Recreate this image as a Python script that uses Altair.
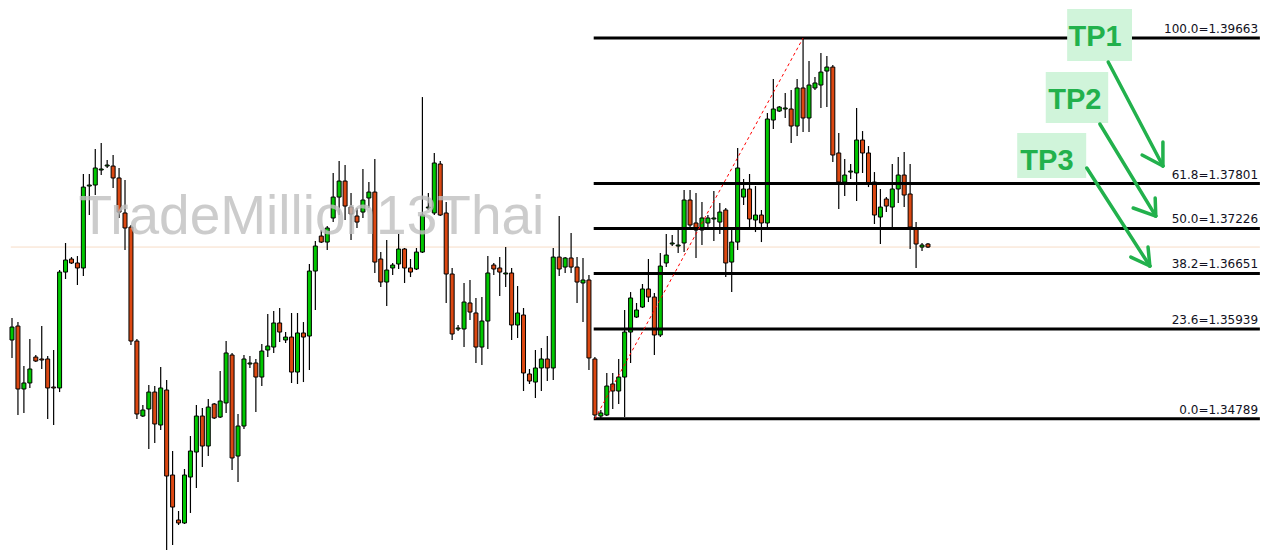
import altair as alt
import pandas as pd

# ---------------- candle data ----------------
opens = [1.35798,1.35977,1.35171,1.35248,1.35580,1.35555,1.35555,1.35196,1.35184,1.36668,
         1.36835,1.36784,1.36720,1.37769,1.37782,1.37974,1.38025,1.38025,1.37872,1.37424,
         1.37244,1.35785,1.34825,1.34915,1.35132,1.34710,1.35158,1.34070,1.33494,1.33456,
         1.34044,1.34364,1.34825,1.34441,1.34979,1.34812,1.34992,1.35606,1.34313,1.34697,
         1.35491,1.35504,1.35324,1.35670,1.35708,1.36016,1.35798,1.35836,1.35388,1.35888,
         1.35849,1.36681,1.37129,1.37052,1.37360,1.37628,1.37833,1.37500,1.37385,1.37436,
         1.37616,1.37692,1.36835,1.36540,1.36720,1.36771,1.36963,1.36720,1.36707,1.36924,
         1.37488,1.37424,1.38051,1.37424,1.36643,1.35939,1.35939,1.36272,1.36144,1.35708,
         1.36041,1.36758,1.36720,1.36643,1.36656,1.35990,1.36118,1.35363,1.35260,1.35440,
         1.35555,1.35440,1.36860,1.36732,1.36848,1.36732,1.36528,1.36566,1.35555,1.34825,
         1.34838,1.35235,1.35145,1.35324,1.35900,1.36092,1.36220,1.36451,1.36348,1.35862,
         1.36784,1.37027,1.37001,1.37040,1.37590,1.37296,1.37206,1.37296,1.37347,1.37308,
         1.37462,1.36796,1.37052,1.37628,1.37731,1.37334,1.37398,1.37296,1.38614,1.38729,
         1.38755,1.38755,1.38537,1.39024,1.38640,1.39024,1.39062,1.39241,1.39292,1.38192,
         1.37820,1.37948,1.37936,1.38358,1.38192,1.37820,1.37372,1.37603,1.37500,1.37731,
         1.37910,1.37667,1.37219,1.36988,1.37027]
highs = [1.36080,1.36028,1.35465,1.35811,1.35606,1.35977,1.35593,1.35670,1.36694,1.37040,
         1.36860,1.36873,1.37923,1.37923,1.38243,1.38320,1.38102,1.38166,1.38000,1.37846,
         1.37270,1.35811,1.34966,1.35222,1.35209,1.35452,1.35286,1.34377,1.33609,1.34147,
         1.34569,1.34966,1.34928,1.35043,1.34992,1.35401,1.35785,1.35632,1.34851,1.35606,
         1.35593,1.35555,1.35747,1.36131,1.36169,1.36208,1.35900,1.36144,1.36144,1.36028,
         1.36771,1.37065,1.37206,1.37257,1.37936,1.38089,1.38038,1.37680,1.37488,1.37987,
         1.37820,1.38115,1.36924,1.37078,1.36784,1.37155,1.36976,1.36835,1.36976,1.38908,
         1.37680,1.38192,1.38089,1.37564,1.36720,1.35990,1.36528,1.36566,1.36336,1.36348,
         1.36873,1.36784,1.36860,1.36988,1.36720,1.36489,1.36208,1.35427,1.35670,1.35696,
         1.35849,1.36976,1.37385,1.36860,1.37168,1.36860,1.36848,1.36630,1.35580,1.34902,
         1.35376,1.35376,1.35555,1.36182,1.36412,1.36272,1.36515,1.36835,1.36400,1.36912,
         1.37155,1.37142,1.37206,1.37718,1.37718,1.37680,1.37564,1.37398,1.37705,1.37552,
         1.37488,1.37206,1.38256,1.37859,1.37923,1.37769,1.37462,1.38704,1.39139,1.38793,
         1.38960,1.38998,1.39139,1.39663,1.39369,1.39164,1.39472,1.39433,1.39318,1.38448,
         1.38115,1.38051,1.38768,1.38473,1.38281,1.37948,1.37731,1.37628,1.38051,1.38140,
         1.38204,1.38051,1.37308,1.37040,1.37040]
lows = [1.35568,1.34838,1.34864,1.35184,1.35516,1.35427,1.34787,1.34710,1.35132,1.36579,
        1.36771,1.36502,1.36617,1.37398,1.37654,1.37910,1.38000,1.37744,1.37360,1.36950,
        1.35734,1.34787,1.34812,1.34403,1.34480,1.34646,1.33020,1.33174,1.33430,1.33443,
        1.33584,1.33904,1.34172,1.34313,1.34787,1.34800,1.34864,1.34134,1.33980,1.34659,
        1.35440,1.34876,1.35209,1.35580,1.35632,1.35772,1.35760,1.35248,1.35235,1.35260,
        1.35414,1.36182,1.37040,1.36950,1.37308,1.37398,1.37334,1.37078,1.37232,1.37360,
        1.37488,1.36656,1.36476,1.36233,1.36630,1.36707,1.36528,1.36604,1.36694,1.36912,
        1.37462,1.37398,1.37385,1.36272,1.35798,1.35913,1.35708,1.36054,1.35504,1.35478,
        1.35683,1.36630,1.36361,1.36476,1.35798,1.35824,1.35145,1.35235,1.35056,1.35145,
        1.35273,1.35286,1.36617,1.36656,1.36656,1.36272,1.36028,1.35414,1.34789,1.34800,
        1.34825,1.34915,1.34979,1.34812,1.35504,1.36080,1.36208,1.36284,1.35606,1.35836,
        1.36732,1.37001,1.36912,1.36924,1.37244,1.36848,1.37014,1.37244,1.37065,1.37155,
        1.36604,1.36412,1.36950,1.37526,1.37244,1.37180,1.37052,1.37244,1.38499,1.38716,
        1.38640,1.38320,1.38409,1.38460,1.38460,1.38998,1.38768,1.38780,1.38076,1.37475,
        1.37641,1.37859,1.37577,1.37936,1.37756,1.37283,1.37027,1.37436,1.37244,1.37552,
        1.37500,1.36963,1.36720,1.36937,1.36976]
closes = [1.35964,1.35171,1.35248,1.35427,1.35529,1.35542,1.35184,1.35184,1.36668,1.36822,
          1.36784,1.36720,1.37756,1.37782,1.38000,1.37987,1.38038,1.37872,1.37436,1.37232,
          1.35785,1.34851,1.34902,1.35132,1.34723,1.35184,1.34057,1.33660,1.33456,1.34070,
          1.34377,1.34825,1.34441,1.34940,1.34800,1.35017,1.35632,1.34288,1.34697,1.35555,
          1.35504,1.35324,1.35657,1.35721,1.36016,1.35900,1.35836,1.35388,1.35888,1.35836,
          1.36681,1.37001,1.37052,1.37232,1.37628,1.37833,1.37513,1.37411,1.37308,1.37590,
          1.37692,1.36796,1.36540,1.36694,1.36758,1.36963,1.36720,1.36668,1.36924,1.37398,
          1.37500,1.38064,1.37398,1.36643,1.35875,1.35952,1.36284,1.36156,1.35708,1.36041,
          1.36656,1.36707,1.36668,1.36656,1.35990,1.36144,1.35376,1.35273,1.35440,1.35555,
          1.35440,1.36860,1.36707,1.36848,1.36732,1.36540,1.36566,1.35568,1.34838,1.34864,
          1.35209,1.35145,1.35324,1.35900,1.36336,1.36182,1.36451,1.36348,1.35862,1.36745,
          1.36886,1.37040,1.37014,1.37590,1.37270,1.37206,1.37360,1.37360,1.37360,1.37436,
          1.36784,1.37052,1.38000,1.37731,1.37347,1.37398,1.37296,1.38627,1.38755,1.38780,
          1.38768,1.38537,1.39024,1.38640,1.39062,1.39088,1.39228,1.39292,1.38166,1.37820,
          1.37910,1.37961,1.38358,1.38192,1.37808,1.37398,1.37500,1.37513,1.37731,1.37910,
          1.37654,1.37244,1.37027,1.37014,1.36988]

# ---------------- Fibonacci retracement ----------------
fib_levels = ["100.0", "61.8", "50.0", "38.2", "23.6", "0.0"]
fib_prices = [1.39663, 1.37801, 1.37226, 1.36651, 1.35939, 1.34789]
fib_low_bar = 98      # swing low candle index
fib_high_bar = 133    # swing high candle index
fib_x_start = 97.8
fib_x_end = 209.8

# ---------------- annotations (in bar index / price units) ----------------
watermark = "TradeMillion13Thai"
tp_names = ["TP1", "TP2", "TP3"]
tp_box_x0 = [177.4, 173.8, 169.0]
tp_box_x1 = [188.3, 184.3, 180.6]
tp_box_top = [1.40035, 1.39228, 1.38448]
tp_box_bot = [1.39369, 1.38576, 1.37872]
tp_text_x = [182.1, 178.7, 174.0]
tp_text_y = [1.39676, 1.38870, 1.38089]
arrow_start_x = [184.3, 182.9, 180.7]
arrow_start_y = [1.39356, 1.38563, 1.38000]
arrow_tip_x = [193.5, 192.3, 191.3]
arrow_tip_y = [1.38025, 1.37385, 1.36745]
arrow_h1_x = [193.5, 192.2, 191.0]
arrow_h1_y = [1.38332, 1.37616, 1.36988]
arrow_h2_x = [190.0, 188.5, 188.1]
arrow_h2_y = [1.38166, 1.37488, 1.36860]

# ---------------- build tables ----------------
n = len(opens)
df = pd.DataFrame({"i": list(range(n)), "open": opens, "high": highs,
                   "low": lows, "close": closes})
bid = closes[-1]

xs = alt.Scale(domain=[-0.6725, 212.68], nice=False, zero=False, padding=0)
ys = alt.Scale(domain=[1.33110, 1.40048], nice=False, zero=False, padding=0)


def X(f):
    return alt.X(f, type="quantitative", scale=xs, axis=None)


def Y(f):
    return alt.Y(f, type="quantitative", scale=ys, axis=None)


bid_df = pd.DataFrame({"x0": [-0.2], "x1": [fib_x_end], "p": [bid]})
bid_line = alt.Chart(bid_df).mark_rule(color="#f7dcc6", strokeWidth=1).encode(
    x=X("x0"), x2="x1", y=Y("p"))

wicks = alt.Chart(df).mark_rule(color="black", strokeWidth=1.2).encode(
    x=X("i"), y=Y("low"), y2="high")

bodies = alt.Chart(df).mark_bar(size=4, stroke="black", strokeWidth=1).encode(
    x=X("i"), y=Y("open"), y2="close",
    color=alt.condition("datum.close >= datum.open",
                        alt.value("#00c800"), alt.value("#dc4812")))

wm_df = pd.DataFrame({"x": [11.2], "y": [1.37155], "t": [watermark]})
wm = alt.Chart(wm_df).mark_text(align="left", baseline="alphabetic",
                                font="Liberation Sans", fontSize=55,
                                color="#c0c0c0", opacity=0.8).encode(
    x=X("x"), y=Y("y"), text="t")

fib_df = pd.DataFrame({
    "p": fib_prices,
    "label": [f"{l}={p:.5f}" for l, p in zip(fib_levels, fib_prices)],
    "x0": [fib_x_start] * len(fib_prices),
    "x1": [fib_x_end] * len(fib_prices),
    "xl": [209.5] * len(fib_prices),
})
fib_lines = alt.Chart(fib_df).mark_rule(color="black", strokeWidth=3).encode(
    x=X("x0"), x2="x1", y=Y("p"))
fib_labels = alt.Chart(fib_df).mark_text(align="right", baseline="alphabetic", dy=-5,
                                         font="DejaVu Sans", fontSize=12,
                                         color="#111122").encode(
    x=X("xl"), y=Y("p"), text="label")

diag_df = pd.DataFrame({"i": [fib_low_bar, fib_high_bar],
                        "p": [lows[fib_low_bar], highs[fib_high_bar]]})
diag = alt.Chart(diag_df).mark_line(color="#ff0000", strokeWidth=1,
                                    strokeDash=[3, 3]).encode(
    x=X("i"), y=Y("p"))

box_df = pd.DataFrame({"x0": tp_box_x0, "x1": tp_box_x1,
                       "y0": tp_box_bot, "y1": tp_box_top})
boxes = alt.Chart(box_df).mark_rect(color="#d0f4da").encode(
    x=X("x0"), x2="x1", y=Y("y0"), y2="y1")

tp_df = pd.DataFrame({"x": tp_text_x, "y": tp_text_y, "t": tp_names})
tp_text = alt.Chart(tp_df).mark_text(align="center", baseline="middle",
                                     font="Liberation Sans", fontSize=29,
                                     fontWeight="bold", color="#22b14c").encode(
    x=X("x"), y=Y("y"), text="t")

seg_rows = []
for k in range(len(tp_names)):
    seg_rows.append((arrow_start_x[k], arrow_start_y[k], arrow_tip_x[k], arrow_tip_y[k]))
    seg_rows.append((arrow_tip_x[k], arrow_tip_y[k], arrow_h1_x[k], arrow_h1_y[k]))
    seg_rows.append((arrow_tip_x[k], arrow_tip_y[k], arrow_h2_x[k], arrow_h2_y[k]))
seg_df = pd.DataFrame(seg_rows, columns=["x0", "y0", "x1", "y1"])
arrows = alt.Chart(seg_df).mark_rule(color="#22b14c", strokeWidth=3.5,
                                     strokeCap="round").encode(
    x=X("x0"), y=Y("y0"), x2="x1", y2="y1")

chart = alt.layer(
    bid_line, wicks, bodies, wm, fib_lines, fib_labels, diag, boxes, tp_text, arrows
).properties(
    width=1269, height=542, padding=0,
    autosize=alt.AutoSizeParams(type="none"),
    background="white",
).configure_view(stroke=None)

chart.save("out.html", embed_options={"renderer": "svg", "actions": False})
